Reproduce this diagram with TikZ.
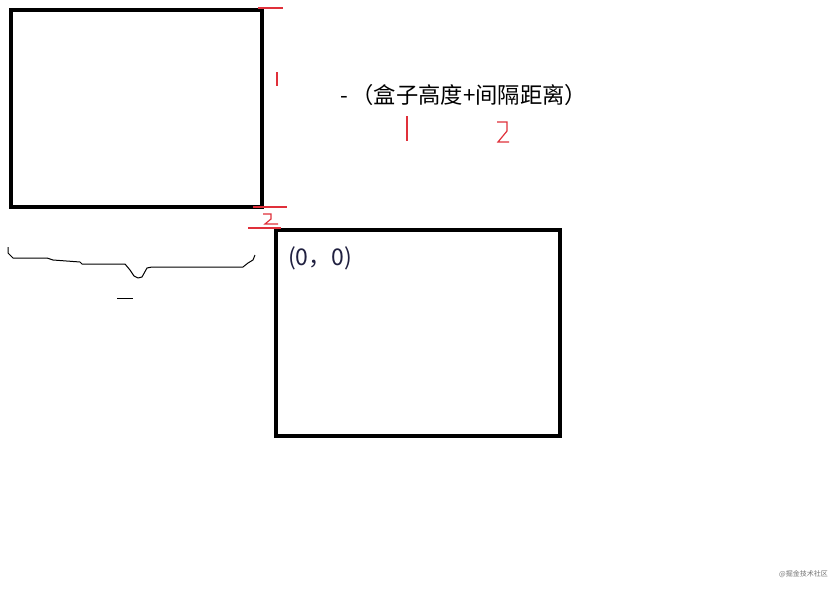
\documentclass[tikz,border=0pt]{standalone}
\usepackage{fontspec}
\newfontfamily\cjk{Noto Sans CJK SC}
\definecolor{markred}{HTML}{E0303A}
\definecolor{navy}{HTML}{202040}
\tikzset{
  box/.style={draw=black, line width=4pt, fill=none, inner sep=0pt},
  redmark/.style={draw=markred, line width=1.2pt},
  hand/.style={draw=black, line width=1pt, line join=round},
}
\begin{document}
\begin{tikzpicture}[x=1pt,y=-1pt]
\useasboundingbox[fill=white] (0,0) rectangle (839,589);
% boxes
\node[box, minimum width=251pt, minimum height=197pt] (b1) at (136.5,108.5) {};
\node[box, minimum width=284pt, minimum height=206pt] (b2) at (418,333) {};
% texts
\node[font=\cjk\fontsize{22.3pt}{24pt}\selectfont, anchor=west, inner sep=0pt] (title) at (340,95) {-\,（盒子高度+间隔距离）};
\node[font=\cjk\fontsize{23pt}{25pt}\selectfont, text=navy, anchor=west, inner sep=0pt] (origin) at (288,258) {(0，0)};
% red marks near box 1
\coordinate (t1) at (258,8); \coordinate (t2) at (283,8);
\draw[redmark] (t1) -- (t2);
\coordinate (o1) at (277,72); \coordinate (o2) at (277,86);
\draw[redmark] (o1) -- (o2);
\coordinate (m1) at (253,207); \coordinate (m2) at (287,207);
\draw[redmark] (m1) -- (m2);
\coordinate (l1) at (248,228); \coordinate (l2) at (281,228);
\draw[redmark] (l1) -- (l2);
\draw[redmark] (263,214) -- (271,214) -- (271,219) -- (265,224) -- (278,224);
% red marks under title
\coordinate (v1) at (407,116); \coordinate (v2) at (407,141);
\draw[redmark] (v1) -- (v2);
\draw[redmark] (497,122) -- (507,122) -- (507,131) -- (498,142) -- (509,142);
% hand-drawn brace
\draw[hand] (8,247) -- (8,253) -- (13,258) -- (47,258) -- (53,260) -- (80,262) -- (82,264)
  -- (125,264) -- (130,270) -- (134,276) -- (138,278) -- (142,277) -- (147,268) -- (152,267)
  -- (243,267) -- (248,263) -- (253,260) -- (255,255);
\coordinate (d1) at (117,298); \coordinate (d2) at (133,298);
\draw[hand] (d1) -- (d2);
% watermark
\node[font=\cjk\fontsize{7pt}{8pt}\selectfont, text=black!55, anchor=east, inner sep=0pt] (wm) at (828,574) {@掘金技术社区};
\end{tikzpicture}
\end{document}
